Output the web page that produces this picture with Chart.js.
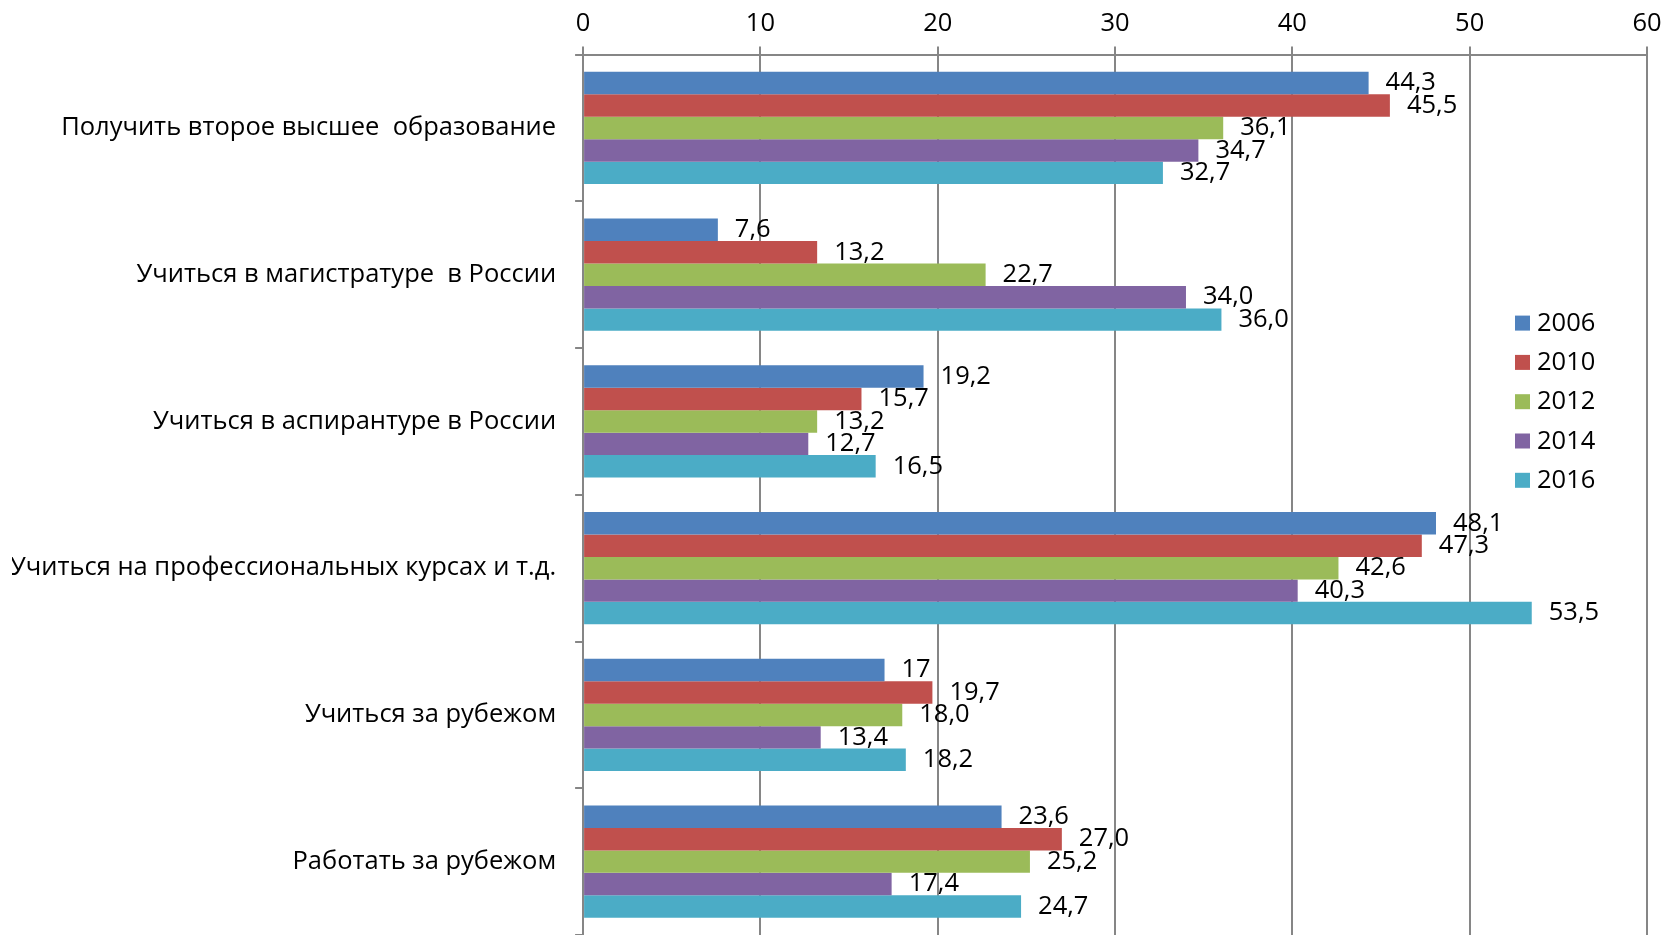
<!DOCTYPE html>
<html>
<head>
    <meta charset="utf-8">
    <title>Планы выпускников</title>
    <script src="https://cdn.jsdelivr.net/npm/chart.js@4.4.0/dist/chart.umd.min.js"></script>
    <style>
        html, body { margin: 0; padding: 0; background: #fff; }
        #wrap { width: 1677px; height: 935px; }
    </style>
</head>
<body>
<div id="wrap"><canvas id="myChart"></canvas></div>
<script>
    // kategorie (oś y)
    var categories = [
        'Получить второе высшее  образование',
        'Учиться в магистратуре  в России',
        'Учиться в аспирантуре в России',
        'Учиться на профессиональных курсах и т.д.',
        'Учиться за рубежом',
        'Работать за рубежом'
    ];
    var years = ['2006', '2010', '2012', '2014', '2016'];
    var colors = ['#4F81BD', '#C0504D', '#9BBB59', '#8064A2', '#4BACC6'];

    // wartości jako tekst, tak jak na podpisach (17 bez przecinka)
    var v2006 = ['44.3', '7.6', '19.2', '48.1', '17', '23.6'];
    var v2010 = ['45.5', '13.2', '15.7', '47.3', '19.7', '27.0'];
    var v2012 = ['36.1', '22.7', '13.2', '42.6', '18.0', '25.2'];
    var v2014 = ['34.7', '34.0', '12.7', '40.3', '13.4', '17.4'];
    var v2016 = ['32.7', '36.0', '16.5', '53.5', '18.2', '24.7'];
    var series = [v2006, v2010, v2012, v2014, v2016];

    var xTicks = [0, 10, 20, 30, 40, 50, 60];

    var FONT = '"Open Sans", sans-serif';
    var FSIZE = 25.5;
    var GRID = '#868686';

    // podpisy przy słupkach
    const valueLabels = {
        id: 'valueLabels',
        afterDatasetsDraw(chart) {
            const ctx = chart.ctx;
            ctx.save();
            ctx.font = FSIZE + 'px ' + FONT;
            ctx.fillStyle = '#000';
            ctx.textBaseline = 'middle';
            ctx.textAlign = 'left';
            chart.data.datasets.forEach((ds, i) => {
                chart.getDatasetMeta(i).data.forEach((bar, j) => {
                    ctx.fillText(String(ds.data[j]).replace('.', ','), bar.x + 17, bar.y);
                });
            });
            ctx.restore();
        }
    };

    // legenda wewnątrz obszaru wykresu
    const innerLegend = {
        id: 'innerLegend',
        afterDraw(chart) {
            const ctx = chart.ctx;
            const a = chart.chartArea;
            const x = a.right - 132;
            let y = a.top + 269;
            ctx.save();
            ctx.font = FSIZE + 'px ' + FONT;
            ctx.textBaseline = 'middle';
            chart.data.datasets.forEach((ds) => {
                ctx.fillStyle = ds.backgroundColor;
                ctx.fillRect(x, y - 8, 15, 15);
                ctx.fillStyle = '#000';
                ctx.fillText(ds.label, x + 22, y);
                y += 39.3;
            });
            ctx.restore();
        }
    };

    const ctx = document.getElementById('myChart').getContext('2d');
    const myChart = new Chart(ctx, {
        type: 'bar',
        data: {
            labels: categories,
            datasets: series.map((d, i) => ({
                label: years[i],
                data: d,
                backgroundColor: colors[i],
                categoryPercentage: 0.765,
                barPercentage: 1.0
            }))
        },
        options: {
            indexAxis: 'y',
            responsive: true,
            maintainAspectRatio: false,
            animation: false,
            layout: { padding: { left: 12, right: 30, top: 0, bottom: 0 } },
            plugins: {
                legend: { display: false },
                tooltip: { enabled: false }
            },
            scales: {
                x: {
                    position: 'top',
                    min: xTicks[0],
                    max: xTicks[xTicks.length - 1],
                    afterBuildTicks: (axis) => { axis.ticks = xTicks.map(v => ({ value: v })); },
                    ticks: { color: '#000', font: { size: FSIZE, family: FONT }, padding: 8 },
                    grid: { color: GRID, lineWidth: 2, tickLength: 8 },
                    border: { color: GRID, width: 2 }
                },
                y: {
                    ticks: { color: '#000', font: { size: FSIZE, family: FONT }, padding: 19 },
                    grid: { drawOnChartArea: false, offset: true, color: GRID, lineWidth: 2, tickLength: 8 },
                    border: { color: GRID, width: 2 },
                    // wykres ma sięgać do samego dołu, oś trochę bliżej lewej krawędzi
                    afterFit: (axis) => { axis.paddingTop = 0; axis.paddingBottom = 0; axis.width -= 21; }
                }
            }
        },
        plugins: [valueLabels, innerLegend]
    });
</script>
</body>
</html>
